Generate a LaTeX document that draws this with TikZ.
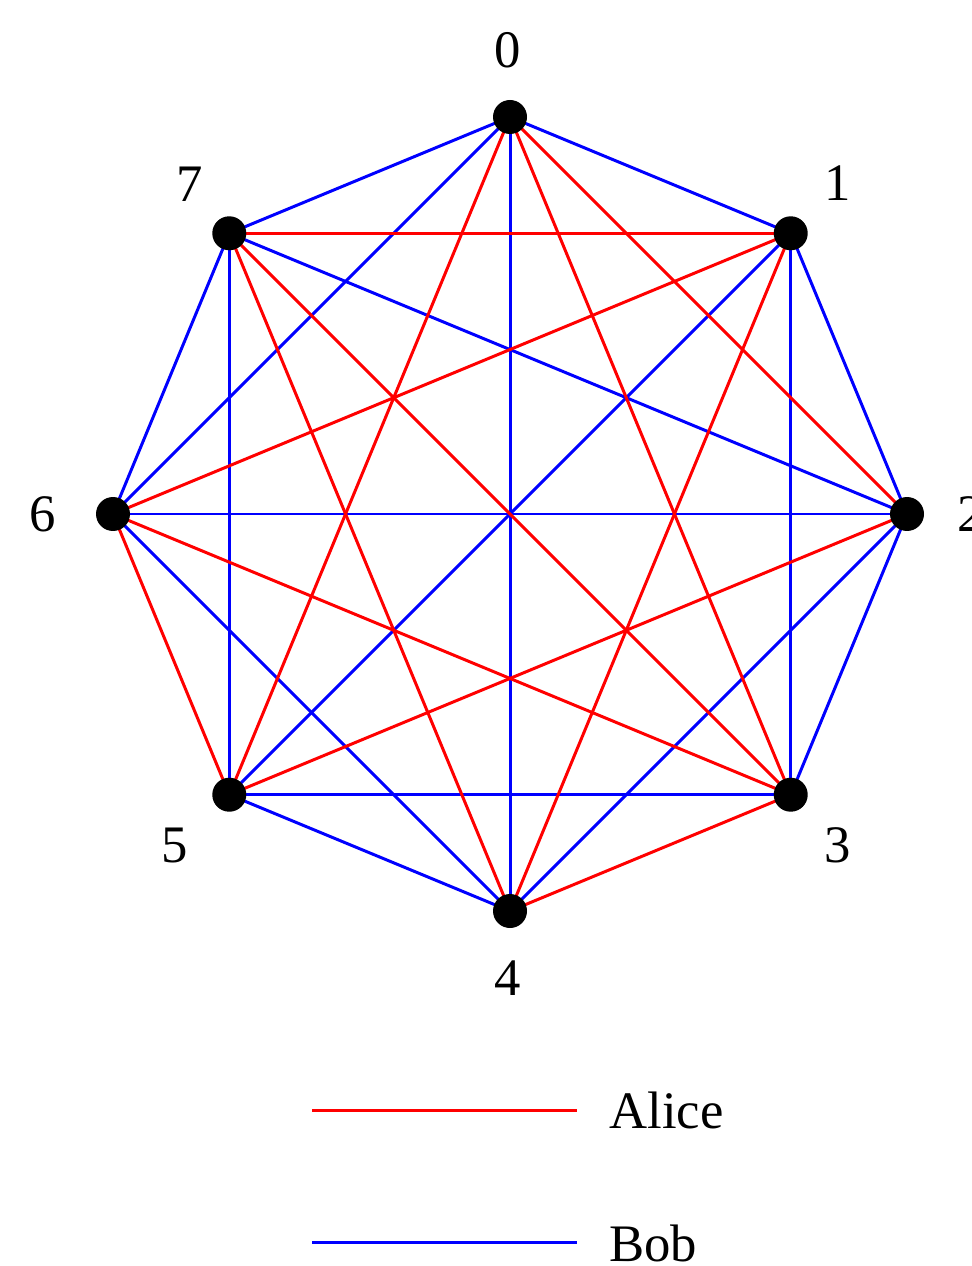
\documentclass[tikz,border=0pt]{standalone}
\usepackage{fontspec}
\setmainfont{Liberation Serif}
\usetikzlibrary{backgrounds}
\begin{document}
\begin{tikzpicture}[x=0.02cm,y=-0.02cm,
  vert/.style={circle,fill=black,inner sep=0pt,minimum size=0.68cm},
  lab/.style={inner sep=0pt,font=\fontsize{30}{36}\selectfont},
  alice/.style={draw={rgb,255:red,255;green,0;blue,0},line width=1.7pt},
  bob/.style={draw={rgb,255:red,0;green,0;blue,255},line width=1.7pt}]
\useasboundingbox (0,0) rectangle (971,1266);
\foreach \i in {0,...,7}{
  \node[vert] (v\i) at ({510+397*sin(45*\i)},{514-397*cos(45*\i)}) {};
}
\begin{scope}[on background layer]
\foreach \a/\b in {0/1,0/4,0/6,0/7,1/2,1/3,1/5,2/3,2/4,2/6,2/7,3/5,4/5,4/6,5/7,6/7}
  \draw[bob] (v\a.center) -- (v\b.center);
\foreach \a/\b in {0/2,0/3,0/5,1/4,1/6,1/7,2/5,3/4,3/6,3/7,4/7,5/6}
  \draw[alice] (v\a.center) -- (v\b.center);
\end{scope}
\node[lab] (l0) at (507.5,50) {0};
\node[lab] (l1) at (838,183) {1};
\node[lab] (l2) at (971,514) {2};
\node[lab] (l3) at (838,845) {3};
\node[lab] (l4) at (508,978) {4};
\node[lab] (l5) at (175,845) {5};
\node[lab] (l6) at (43,514) {6};
\node[lab] (l7) at (190,184) {7};
\coordinate (a1) at (312,1110.5);
\coordinate (a2) at (577,1110.5);
\coordinate (b1) at (312,1242.5);
\coordinate (b2) at (577,1242.5);
\draw[alice] (a1) -- (a2);
\draw[bob] (b1) -- (b2);
\node[lab,anchor=base west] (ta) at (609,1128) {Alice};
\node[lab,anchor=base west] (tb) at (609,1261) {Bob};
\end{tikzpicture}
\end{document}
